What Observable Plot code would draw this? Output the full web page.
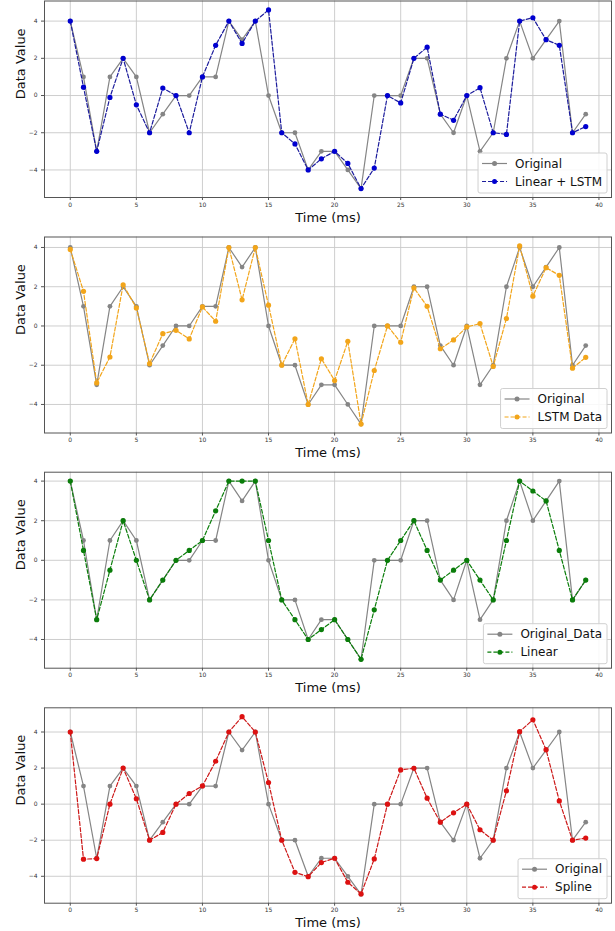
<!DOCTYPE html>
<html><head><meta charset="utf-8">
<script src="https://cdn.jsdelivr.net/npm/d3@7"></script>
<script src="https://cdn.jsdelivr.net/npm/@observablehq/plot@0.6"></script>
<style>
body{margin:0;background:#fff;font-family:"DejaVu Sans",sans-serif}
#chart svg{display:block}
</style>
</head><body><div id="chart"></div>
<script>
const time = [0,1,2,3,4,5,6,7,8,9,10,11,12,13,14,15,16,17,18,19,20,21,22,23,24,25,26,27,28,29,30,31,32,33,34,35,36,37,38,39];
const original = [4,1,-3,1,2,1,-2,-1,0,0,1,1,4,3,4,0,-2,-2,-4,-3,-3,-4,-5,0,0,0,2,2,-1,-2,0,-3,-2,2,4,2,3,4,-2,-1];
const linearLSTM = [4,0.45,-3,-0.1,2,-0.5,-2,0.4,0,-2,1,2.7,4,2.8,4,4.6,-2,-2.6,-4,-3.4,-3,-3.65,-5,-3.9,0,-0.4,2,2.6,-1,-1.33,0,0.42,-2,-2.09,4,4.18,3,2.7,-2,-1.67];
const lstmData = [3.9,1.77,-2.9,-1.58,2.1,0.92,-1.92,-0.39,-0.22,-0.66,0.97,0.24,4,1.33,4,1.06,-2,-0.65,-4,-1.67,-2.78,-0.78,-5,-2.27,0,-0.83,1.94,1.0,-1.16,-0.71,-0.05,0.12,-2.06,0.38,4.08,1.52,2.97,2.58,-2.15,-1.6];
const linear = [4,0.5,-3,-0.5,2,0,-2,-1,0,0.5,1,2.5,4,4,4,1,-2,-3,-4,-3.5,-3,-4,-5,-2.5,0,1,2,0.5,-1,-0.5,0,-1,-2,1,4,3.5,3,0.5,-2,-1];
const spline = [4,-3.05,-3.02,0,2,0.3,-2,-1.57,0,0.59,1.01,2.38,4,4.85,4,1.2,-2,-3.78,-4.02,-3.24,-3.0,-4.33,-4.98,-3.04,0,1.9,1.99,0.33,-1.0,-0.48,0,-1.42,-2,0.74,4.02,4.68,3.02,0.18,-2,-1.88];

const xTicks = [0,5,10,15,20,25,30,35,40];
const yTicks = [-4,-2,0,2,4];
const xLabel = "Time (ms)";
const yLabel = "Data Value";

const panels = [
  {origName:"Original", name:"Linear + LSTM", values:linearLSTM, dot:"#0000d0", line:"#1c1c9c", h:236, mt:0.5, mb:39},
  {origName:"Original", name:"LSTM Data", values:lstmData, dot:"#f2a51a", line:"#f2a51a", h:235, mt:0.5, mb:38.5},
  {origName:"Original_Data", name:"Linear", values:linear, dot:"#0a7d0a", line:"#0a7d0a", h:235, mt:0.7, mb:38.3},
  {origName:"Original", name:"Spline", values:spline, dot:"#dd1111", line:"#cc1818", h:225, mt:1.3, mb:28.3}
];

const W = 615, ML = 44, MR = 4;
const gray = "#858585";
const fmt = d => d < 0 ? "\u2212" + (-d) : String(d);
const container = document.getElementById("chart");

for (const p of panels) {
  const rowsO = time.map((t,i) => ({t, v: original[i]}));
  const rowsS = time.map((t,i) => ({t, v: p.values[i]}));
  const all = original.concat(p.values);
  const lo = d3.min(all), hi = d3.max(all), r = hi - lo;
  const tMin = d3.min(time), tMax = d3.max(time), tr = tMax - tMin;
  const svg = Plot.plot({
    width: W, height: p.h,
    marginLeft: ML, marginRight: MR, marginTop: p.mt, marginBottom: p.mb,
    style: {fontFamily: "DejaVu Sans, sans-serif", background: "#fff"},
    x: {domain: [tMin - 0.05*tr, tMax + 0.05*tr]},
    y: {domain: [lo - 0.05*r, hi + 0.05*r]},
    marks: [
      Plot.gridX(xTicks, {stroke:"#c8c8c8", strokeOpacity:1, strokeWidth:0.9}),
      Plot.gridY(yTicks, {stroke:"#c8c8c8", strokeOpacity:1, strokeWidth:0.9}),
      Plot.axisX({ticks:xTicks, tickSize:3, tickPadding:2, fontSize:6, label:null, stroke:"#555", color:"#333"}),
      Plot.axisY({ticks:yTicks, tickSize:3, tickPadding:4, fontSize:6, label:null, tickFormat:fmt, stroke:"#555", color:"#333"}),
      Plot.line(rowsO, {x:"t", y:"v", stroke:gray, strokeWidth:1.2}),
      Plot.dot(rowsO, {x:"t", y:"v", r:2.4, fill:gray}),
      Plot.line(rowsS, {x:"t", y:"v", stroke:p.line, strokeWidth:1.2, strokeDasharray:"4,2"}),
      Plot.dot(rowsS, {x:"t", y:"v", r:2.6, fill:p.dot}),
      Plot.frame({stroke:"#555", strokeWidth:1}),
      Plot.text([xLabel], {text:d=>d, frameAnchor:"bottom", dy:20, fontSize:13, fill:"#111", lineAnchor:"middle"}),
      Plot.text([yLabel], {text:d=>d, frameAnchor:"left", dx:-24, rotate:-90, fontSize:13, fill:"#111"})
    ]
  });
  container.appendChild(svg);

  // legend inside plot, lower right
  const right = W - MR - 4, bottom = p.h - p.mb - 4;
  const g = d3.select(svg).append("g")
    .attr("font-family","DejaVu Sans, sans-serif").attr("font-size",12).attr("text-anchor","start");
  const box = g.append("rect");
  const items = [{label:p.origName, stroke:gray, dot:gray, dash:null},{label:p.name, stroke:p.line, dot:p.dot, dash:"4,2"}];
  const texts = items.map(it => g.append("text").text(it.label).attr("fill","#111")
    .attr("text-anchor","start").attr("dy","0.35em"));
  const tw = d3.max(texts, t => t.node().getComputedTextLength());
  const bw = 37 + tw + 5, bh = 40;
  const left = right - bw, top = bottom - bh;
  box.attr("x",left).attr("y",top).attr("width",bw).attr("height",bh).attr("rx",2)
     .attr("fill","#fff").attr("fill-opacity",0.85).attr("stroke","#d0d0d0");
  items.forEach((it,i) => {
    const cy = top + 10.5 + 18*i;
    const ln = g.append("line").attr("x1",left+4).attr("x2",left+29).attr("y1",cy).attr("y2",cy)
      .attr("stroke",it.stroke).attr("stroke-width",1.2);
    if (it.dash) ln.attr("stroke-dasharray",it.dash);
    g.append("circle").attr("cx",left+16.5).attr("cy",cy).attr("r",2.5).attr("fill",it.dot);
    texts[i].attr("x",left+37).attr("y",cy);
    texts[i].raise();
  });
}
</script>
</body></html>
